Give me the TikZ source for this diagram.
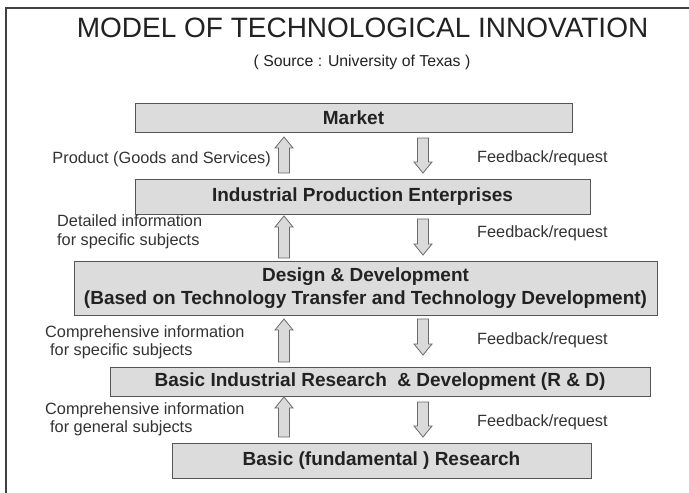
\documentclass[tikz,border=0pt]{standalone}
\usepackage{fontspec}
\setmainfont{Liberation Sans}
\usetikzlibrary{calc}
\definecolor{boxfill}{HTML}{DCDCDC}
\definecolor{boxline}{HTML}{555555}
\definecolor{arrfill}{HTML}{DADADA}
\definecolor{arrline}{HTML}{6A6A6A}
\definecolor{txt}{HTML}{222222}
\definecolor{lbl}{HTML}{333333}
\tikzset{
  box/.style={draw=boxline, fill=boxfill, line width=1pt, inner sep=0pt,
    font=\fontsize{19}{22.5}\selectfont\bfseries, text=txt, align=center},
  lab/.style={font=\fontsize{16.3}{18.5}\selectfont, text=lbl, inner sep=0pt},
  blk/.style={draw=arrline, fill=arrfill, line width=0.8pt, line join=miter},
  frame/.style={draw=black!75, line width=1.3pt}
}
\newcommand\blkup[3]{% x, tip y, base y
  \draw[blk] (#1-9,#2+11) -- (#1,#2) -- (#1+9,#2+11) -- (#1+5.5,#2+11) -- (#1+5.5,#3) -- (#1-5.5,#3) -- (#1-5.5,#2+11) -- cycle;}
\newcommand\blkdown[3]{% x, top y, tip y
  \draw[blk] (#1-5.5,#2) -- (#1+5.5,#2) -- (#1+5.5,#3-11) -- (#1+9,#3-11) -- (#1,#3) -- (#1-9,#3-11) -- (#1-5.5,#3-11) -- cycle;}
\begin{document}
\begin{tikzpicture}[x=1pt,y=-1pt]
\useasboundingbox (0,0) rectangle (689,493);
\fill[white] (0,0) rectangle (689,493);
% frame
\coordinate (fb) at (6,494);
\coordinate (fc) at (6,8);
\coordinate (fr) at (690,8);
\draw[frame] (fb) -- (fc) -- (fr);
% title
\node[anchor=base, font=\fontsize{28}{30}\selectfont, text=txt, inner sep=0pt] (title) at (362.5,37) {MODEL OF TECHNOLOGICAL INNOVATION};
\node[anchor=base, font=\fontsize{15.8}{18}\selectfont, text=txt, inner sep=0pt] (source) at (362,66) {( Source : University of Texas )};
% boxes
\node[box, minimum width=437, minimum height=29] (market) at (353.5,117.5) {Market};
\node[box, minimum width=455, minimum height=35] (ipe) at (362.5,196.5) {Industrial Production Enterprises};
\node[box, minimum width=583, minimum height=54] (dd) at (365.5,288) {Design \& Development\\(Based on Technology Transfer and Technology Development)};
\node[box, minimum width=540, minimum height=29] (bir) at (380,381.5) {Basic Industrial Research\ \ \& Development (R \& D)};
\node[box, minimum width=419, minimum height=35] (br) at (381.5,460.5) {Basic (fundamental ) Research};
% block arrows
\blkup{284}{137}{173}
\blkup{284}{216}{258}
\blkup{284}{319}{362}
\blkup{284}{397}{437}
\blkdown{423}{138}{173}
\blkdown{423}{219}{255}
\blkdown{423}{319}{355}
\blkdown{423}{402}{437}
% labels
\node[lab, anchor=east] (l1) at (271,159) {Product (Goods and Services)};
\node[lab, anchor=west, align=left] (l2) at (57,232) {Detailed information\\for specific subjects};
\node[lab, anchor=west, align=left] (l3) at (45,342.5) {Comprehensive information\\\hspace*{5pt}for specific subjects};
\node[lab, anchor=west, align=left] (l4) at (45,419.5) {Comprehensive information\\\hspace*{5pt}for general subjects};
\node[lab, anchor=west] (f1) at (477,158) {Feedback/request};
\node[lab, anchor=west] (f2) at (477,233) {Feedback/request};
\node[lab, anchor=west] (f3) at (477,340) {Feedback/request};
\node[lab, anchor=west] (f4) at (477,422) {Feedback/request};
\end{tikzpicture}
\end{document}
